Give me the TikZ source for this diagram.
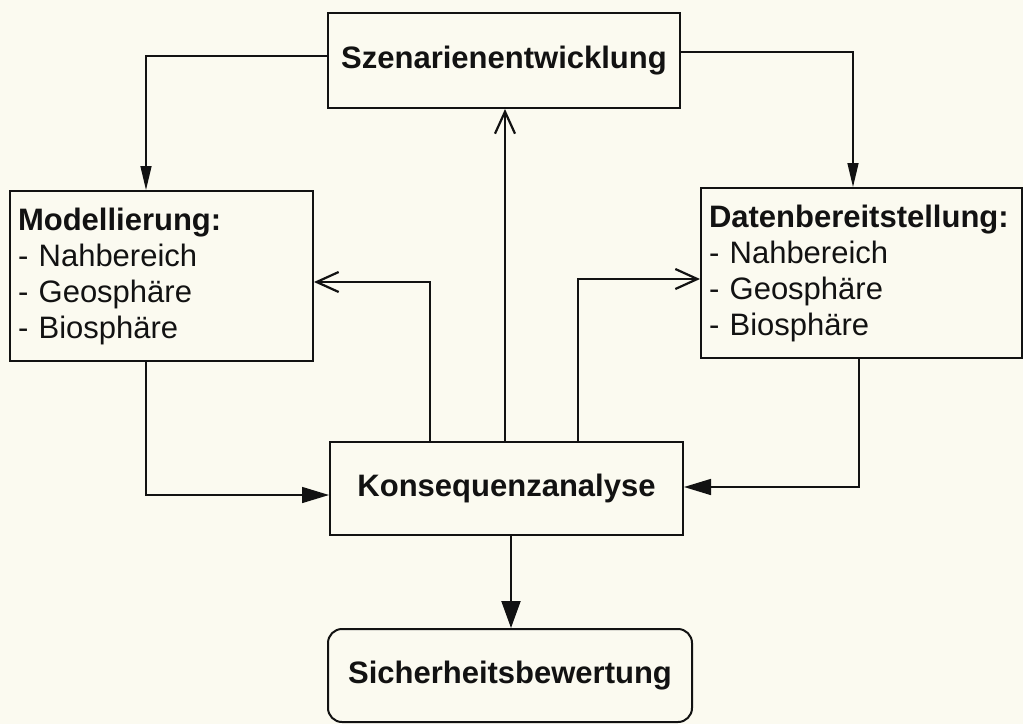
\documentclass[tikz,border=0pt]{standalone}
\usepackage{fontspec}
\setmainfont{Liberation Sans}
\usetikzlibrary{arrows.meta}
\definecolor{paper}{RGB}{251,250,240}
\definecolor{ink}{RGB}{18,18,18}
\begin{document}
\begin{tikzpicture}[x=1pt,y=-1pt,
  titlebox/.style={draw=ink, line width=2pt, rectangle, inner sep=0pt,
    font=\fontsize{31}{36}\selectfont\bfseries, text=ink},
  listbox/.style={draw=ink, line width=2pt, rectangle, inner xsep=8pt, inner ysep=0pt,
    font=\fontsize{31}{36}\selectfont, text=ink, align=left},
  conn/.style={draw=ink, line width=2pt},
  thinconn/.style={draw=ink, line width=1.5pt},
  solidtip/.style={-{Triangle[length=24pt,width=11pt]}},
  sidetip/.style={-{Triangle[length=27pt,width=16pt]}},
  bigtip/.style={-{Triangle[length=27pt,width=19pt]}},
  opentip/.style={-{Straight Barb[length=22pt,width=20pt,line width=2.2pt]}},
]
% paper
\fill[paper] (0,0) rectangle (1023,724);
\useasboundingbox (0,0) rectangle (1023,724);

% boxes
\node[titlebox, minimum width=352pt, minimum height=95pt] (szen) at (504,60.5)
  {\raisebox{-4pt}{Szenarienentwicklung}};
\node[listbox, text width=287pt, minimum height=170pt] (mod) at (161.5,276)
  {\textbf{Modellierung:}\\- Nahbereich\\- Geosphäre\\- Biosphäre};
\node[listbox, text width=305pt, minimum height=170pt] (dat) at (861.5,273)
  {\textbf{Datenbereitstellung:}\\- Nahbereich\\- Geosphäre\\- Biosphäre};
\node[titlebox, minimum width=353pt, minimum height=93pt] (kons) at (506.5,488.5)
  {\raisebox{-4pt}{Konsequenzanalyse}};
\node[titlebox, rounded corners=14pt, minimum width=364pt, minimum height=93pt] (sich) at (510,675.5)
  {\raisebox{-3pt}{Sicherheitsbewertung}};

% scenario development feeds modelling and data provision
\draw[thinconn, solidtip] ([yshift=4.5pt]szen.west) -| ([xshift=-15.5pt]mod.north);
\draw[thinconn, solidtip] ([yshift=8.5pt]szen.east) -| ([xshift=-8.5pt]dat.north);

% feedback from the consequence analysis
\draw[conn, opentip] ([xshift=-1.5pt]kons.north) -- ([xshift=-1.5pt]kons.north |- szen.south);
\draw[conn, opentip] ([xshift=-76.5pt]kons.north) |- ([yshift=-6pt]mod.east);
\draw[conn, opentip] ([xshift=71.5pt]kons.north) |- ([yshift=-6pt]dat.west);

% model and data results into the consequence analysis
\draw[thinconn, sidetip] ([xshift=-15.5pt]mod.south) |- ([yshift=-6.5pt]kons.west);
\draw[thinconn, sidetip] ([xshift=-2.5pt]dat.south) |- ([yshift=1.5pt]kons.east);

% consequence analysis to safety assessment
\draw[conn, bigtip] ([xshift=1pt]sich.north |- kons.south) -- ([xshift=1pt]sich.north);
\end{tikzpicture}
\end{document}
